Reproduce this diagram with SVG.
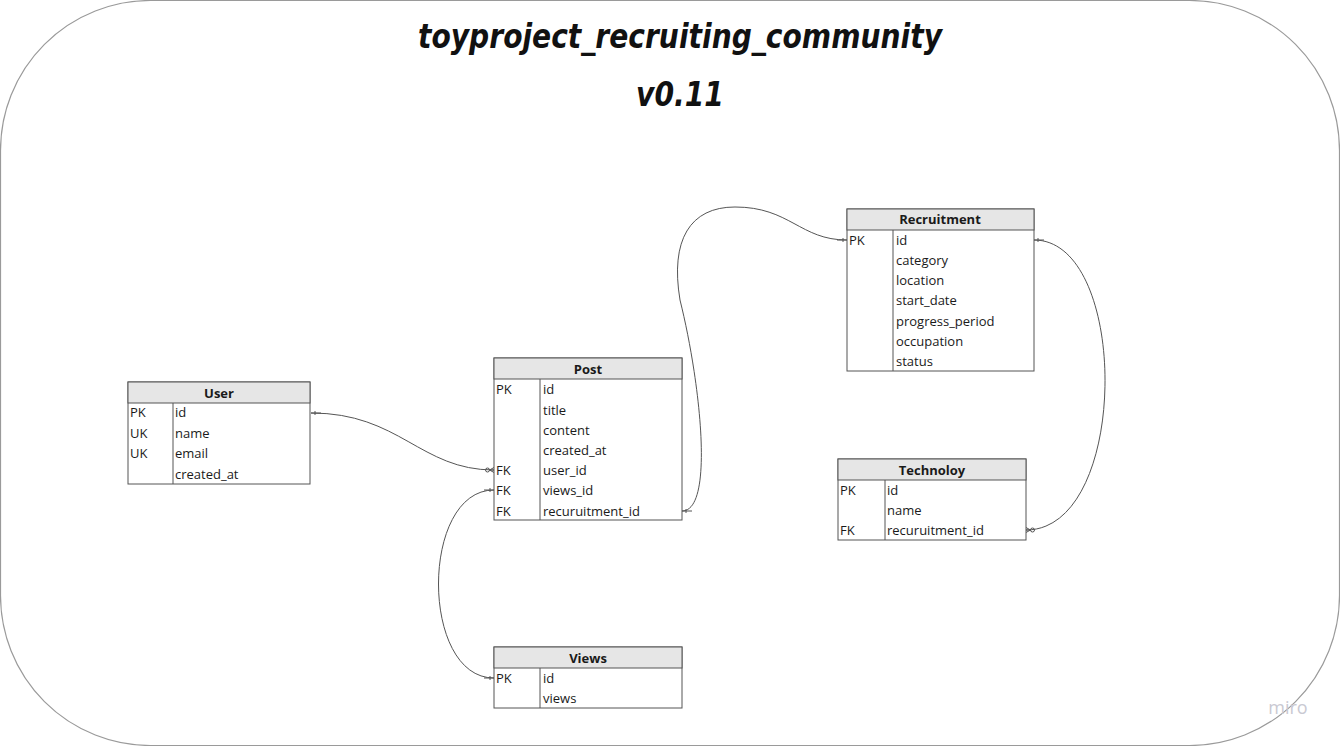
<svg xmlns="http://www.w3.org/2000/svg" width="1340" height="746" viewBox="0 0 1340 746">
<style>
.frame{fill:#fff;stroke:#9a9a9a;stroke-width:1.2}
.box{fill:#fff;stroke:#555;stroke-width:1}
.hdr{fill:#e6e6e6;stroke:#555;stroke-width:1}
.ln{stroke:#555;stroke-width:1}
.ht{font-family:"Open Sans","Liberation Sans",sans-serif;font-size:13px;font-weight:bold;fill:#1a1a1a;text-anchor:middle}
.t{font-family:"Open Sans","Liberation Sans",sans-serif;font-size:13px;fill:#1a1a1a}
.title{font-family:"DejaVu Sans","Liberation Sans",sans-serif;font-size:34px;font-weight:bold;font-style:italic;fill:#111;text-anchor:middle}
.conn{fill:none;stroke:#555;stroke-width:1}
.mk{fill:none;stroke:#555;stroke-width:1}
</style>
<defs>
<marker id="one" viewBox="0 0 10 10" refX="10" refY="5" markerWidth="10" markerHeight="10" markerUnits="userSpaceOnUse" orient="auto-start-reverse">
<path class="mk" d="M0,5 L10,5 M6,3 L6,7"/>
</marker>
<marker id="zmany" viewBox="0 0 10 10" refX="10" refY="5" markerWidth="10" markerHeight="10" markerUnits="userSpaceOnUse" orient="auto-start-reverse">
<circle class="mk" cx="3.5" cy="5" r="2"/>
<path class="mk" d="M5.5,5 L10,5 M5.5,5 L10,2.5 M5.5,5 L10,7.5"/>
</marker>
</defs>
<rect class="frame" x="0.5" y="0.5" width="1339" height="745" rx="150" ry="150"/>
<g id="title">
<text class="title" x="680" y="48" textLength="524" lengthAdjust="spacingAndGlyphs">toyproject_recruiting_community</text>
<text class="title" x="680" y="106" textLength="88" lengthAdjust="spacingAndGlyphs">v0.11</text>
</g>
<g id="connectors">
<path class="conn" d="M311,413 C400,413 420,470 494,470" marker-start="url(#one)" marker-end="url(#zmany)"/>
<path class="conn" d="M494,490 C420,490 420,678 494,678" marker-start="url(#one)" marker-end="url(#one)"/>
<path class="conn" d="M682,511 C715,511 700,380 680,300 C670,240 690,207 735,207 C790,207 800,240 847,240" marker-start="url(#one)" marker-end="url(#one)"/>
<path class="conn" d="M1034,240 C1130,240 1130,530 1026,530" marker-start="url(#one)" marker-end="url(#zmany)"/>
</g>
<g id="user">
<rect class="box" x="128" y="382" width="182" height="102"/>
<rect class="hdr" x="128" y="382" width="182" height="21"/>
<line class="ln" x1="173" y1="403" x2="173" y2="484"/>
<text class="ht" x="219" y="398">User</text>
<text class="t" x="130" y="417">PK</text><text class="t" x="175" y="417">id</text>
<text class="t" x="130" y="438">UK</text><text class="t" x="175" y="438">name</text>
<text class="t" x="130" y="458">UK</text><text class="t" x="175" y="458">email</text>
<text class="t" x="175" y="479">created_at</text>
</g>
<g id="post">
<rect class="box" x="494" y="358" width="188" height="162"/>
<rect class="hdr" x="494" y="358" width="188" height="21"/>
<line class="ln" x1="540" y1="379" x2="540" y2="520"/>
<text class="ht" x="588" y="374">Post</text>
<text class="t" x="496" y="394">PK</text><text class="t" x="543" y="394">id</text>
<text class="t" x="543" y="415">title</text>
<text class="t" x="543" y="435">content</text>
<text class="t" x="543" y="455">created_at</text>
<text class="t" x="496" y="475">FK</text><text class="t" x="543" y="475">user_id</text>
<text class="t" x="496" y="495">FK</text><text class="t" x="543" y="495">views_id</text>
<text class="t" x="496" y="516">FK</text><text class="t" x="543" y="516">recuruitment_id</text>
</g>
<g id="recruitment">
<rect class="box" x="847" y="209" width="187" height="162"/>
<rect class="hdr" x="847" y="209" width="187" height="21"/>
<line class="ln" x1="893" y1="230" x2="893" y2="371"/>
<text class="ht" x="940" y="224">Recruitment</text>
<text class="t" x="849" y="245">PK</text><text class="t" x="896" y="245">id</text>
<text class="t" x="896" y="265">category</text>
<text class="t" x="896" y="285">location</text>
<text class="t" x="896" y="305">start_date</text>
<text class="t" x="896" y="326">progress_period</text>
<text class="t" x="896" y="346">occupation</text>
<text class="t" x="896" y="366">status</text>
</g>
<g id="technoloy">
<rect class="box" x="838" y="459" width="188" height="81"/>
<rect class="hdr" x="838" y="459" width="188" height="21"/>
<line class="ln" x1="885" y1="480" x2="885" y2="540"/>
<text class="ht" x="932" y="475">Technoloy</text>
<text class="t" x="840" y="495">PK</text><text class="t" x="887" y="495">id</text>
<text class="t" x="887" y="515">name</text>
<text class="t" x="840" y="535">FK</text><text class="t" x="887" y="535">recuruitment_id</text>
</g>
<g id="views">
<rect class="box" x="494" y="647" width="188" height="61"/>
<rect class="hdr" x="494" y="647" width="188" height="21"/>
<line class="ln" x1="540" y1="668" x2="540" y2="708"/>
<text class="ht" x="588" y="663">Views</text>
<text class="t" x="496" y="683">PK</text><text class="t" x="543" y="683">id</text>
<text class="t" x="543" y="703">views</text>
</g>
<text x="1288" y="714" font-family="'Open Sans','Liberation Sans',sans-serif" font-size="18" fill="#c9c9d2" text-anchor="middle">miro</text>
</svg>
